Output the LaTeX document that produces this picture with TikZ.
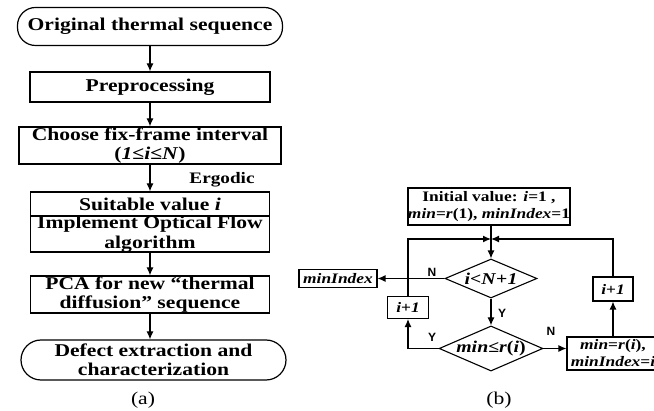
\documentclass[tikz,border=0pt]{standalone}
\usepackage{fontspec}
\setmainfont{Liberation Serif}[FakeStretch=1.2]
\newfontfamily\yesno{Liberation Sans}
\usetikzlibrary{shapes.geometric,arrows.meta}

\begin{document}
\begin{tikzpicture}[x=1pt,y=-1pt]
	 \tikzstyle{block}=[draw,line width=1.2pt,rectangle,align=center,inner sep=0pt,font=\fontsize{18}{19.5}\selectfont\bfseries]
	 \tikzstyle{terminal}=[block,rounded corners=18pt]
	 \tikzstyle{small block}=[draw,line width=1.1pt,rectangle,align=center,inner sep=0pt,font=\fontsize{14.5}{17}\selectfont\bfseries]
	 \tikzstyle{decision}=[small block,diamond,aspect=2.3,font=\fontsize{16.5}{17}\selectfont\bfseries]
	 \tikzstyle{edge}=[draw,line width=1.2pt,-{Latex[length=8pt,width=7pt]}]
	 \tikzstyle{branch}=[font=\yesno\bfseries\fontsize{12}{12}\selectfont]
	 \tikzstyle{caption}=[font=\fontsize{18}{19}\selectfont]
	 \useasboundingbox (0,0) rectangle (654,411);
	 % (a) thermal sequence processing
	 \node[terminal,minimum width=265pt,minimum height=38pt] (orig) at (150,26.5) {Original thermal sequence};
	 \node[block,minimum width=240pt,minimum height=30pt] (prep) at (150,87) {Preprocessing};
	 \node[block,minimum width=262pt,minimum height=37pt] (choose) at (150,145.5) {Choose fix-frame interval\\(\textit{1}≤\textit{i}≤\textit{N})};
	 \node[font=\fontsize{16}{18}\selectfont\bfseries] (ergo) at (222,180) {Ergodic};
	 \node[block,minimum width=239pt,minimum height=24pt] (suit) at (150,204) {Suitable value \textit{i}};
	 \node[block,minimum width=239pt,minimum height=36pt] (impl) at (150,234) {Implement Optical Flow\\algorithm};
	 \node[block,minimum width=239pt,minimum height=37pt] (pca) at (150,294.5) {PCA for new “thermal\\diffusion” sequence};
	 \node[terminal,minimum width=265pt,minimum height=40pt,rounded corners=20pt] (defect) at (153.5,360) {Defect extraction and\\characterization};
	 \node[caption] (capa) at (143,400) {(a)};
	 \draw[edge] (orig.south) -- (prep.north);
	 \draw[edge] (prep.south) -- (choose.north);
	 \draw[edge] (choose.south) -- (suit.north);
	 \draw[edge] (impl.south) -- (pca.north);
	 \draw[edge] (pca.south) -- (pca.south |- defect.north);
	 % (b) search for minIndex
	 \node[small block,minimum width=161pt,minimum height=37pt] (init) at (489,206.5) {Initial value: \textit{i}=1 ,\\\textit{min}=\textit{r}(1), \textit{minIndex}=1};
	 \coordinate (merge) at (491,239);
	 \node[decision,minimum width=92pt,minimum height=39pt] (d1) at (491,278.5) {\textit{i}<\textit{N}+\textit{1}};
	 \node[decision,minimum width=92pt,minimum height=43pt] (d2) at (491,348.5) {\textit{min}≤\textit{r}(\textit{i})};
	 \node[small block,minimum width=78pt,minimum height=18pt] (out) at (338,278.5) {\textit{minIndex}};
	 \node[small block,minimum width=41pt,minimum height=22pt] (incL) at (408,307.5) {\textit{i}+\textit{1}};
	 \node[small block,minimum width=40pt,minimum height=24pt] (incR) at (613,289) {\textit{i}+\textit{1}};
	 \node[small block,minimum width=92pt,minimum height=33pt] (upd) at (613,353.5) {\textit{min}=\textit{r}(\textit{i}),\\\textit{minIndex}=\textit{i}};
	 \node[branch] (n1) at (432,272) {N};
	 \node[branch] (y1) at (502,313) {Y};
	 \node[branch] (y2) at (432,337) {Y};
	 \node[branch] (n2) at (551,331) {N};
	 \node[caption] (capb) at (499,400) {(b)};
	 \draw[edge] (init.south -| d1.north) -- (d1.north);
	 \draw[edge] (incL.north) |- (merge);
	 \draw[edge] (incR.north) |- (merge);
	 \draw[edge] (d1.west) -- (out.east);
	 \draw[edge] (d1.south) -- (d2.north);
	 \draw[edge] (d2.west) -| (incL.south);
	 \draw[edge] (d2.east) -- (d2.east -| upd.west);
	 \draw[edge] (upd.north) -- (incR.south);
\end{tikzpicture}
\end{document}
